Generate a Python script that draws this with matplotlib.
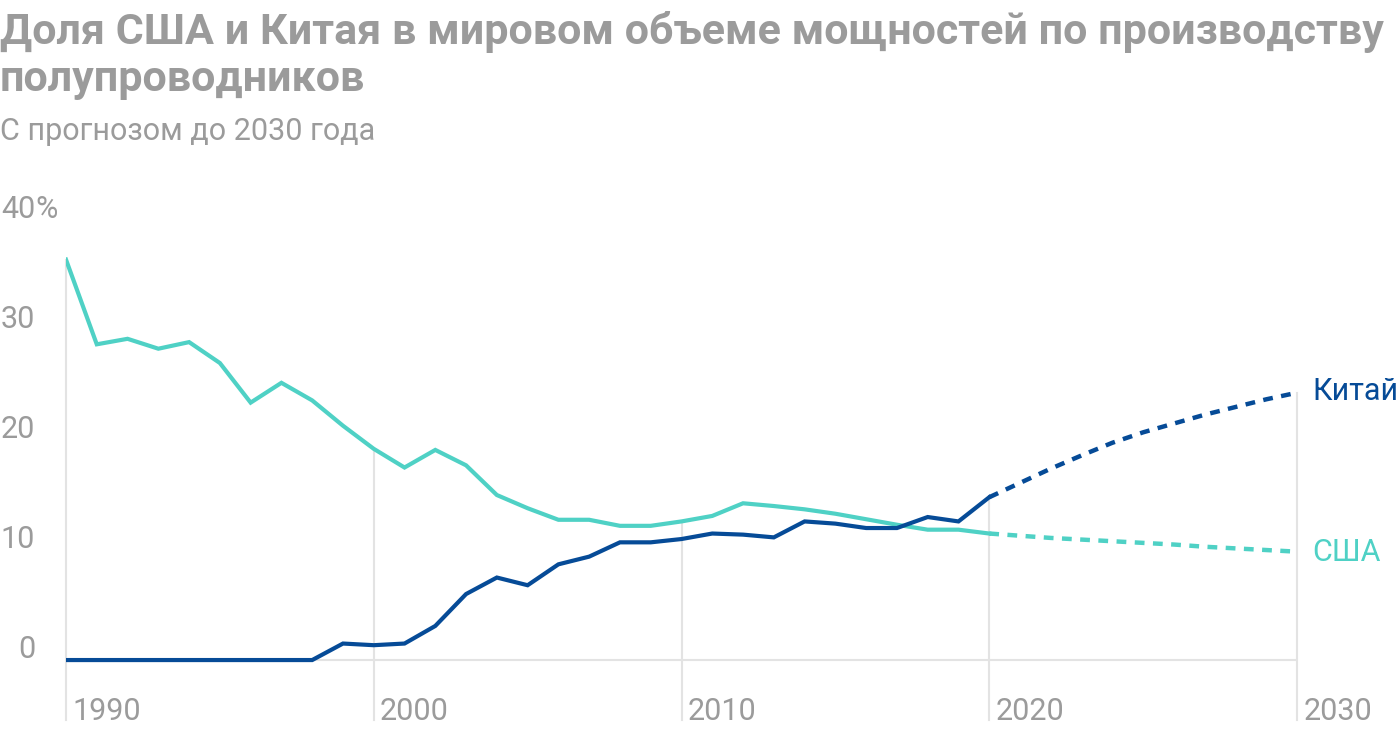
###
# Share of US and China in world semiconductor capacity, with forecast to 2030.
###

import matplotlib
matplotlib.use('Agg')
import matplotlib.pyplot as plt
from matplotlib.transforms import blended_transform_factory

# Data (percent of world capacity).
years_hist = list(range(1990, 2021))
usa_hist = [36.4, 28.7, 29.2, 28.3, 28.9, 27.0, 23.4, 25.2, 23.6, 21.3,
            19.2, 17.5, 19.1, 17.7, 15.0, 13.8, 12.75, 12.75, 12.2, 12.2,
            12.6, 13.1, 14.25, 14.0, 13.7, 13.3, 12.8, 12.3, 11.85, 11.85,
            11.5]
china_hist = [0, 0, 0, 0, 0, 0, 0, 0, 0, 1.5,
              1.35, 1.5, 3.1, 6.0, 7.5, 6.8, 8.7, 9.4, 10.7, 10.7,
              11.0, 11.5, 11.4, 11.15, 12.6, 12.4, 12.0, 12.0, 13.0, 12.6,
              14.8]

years_fc = list(range(2020, 2031))
usa_fc = [11.5, 11.3, 11.1, 10.95, 10.8, 10.65, 10.5, 10.3, 10.15, 10.0, 9.85]
china_fc = [14.8, 16.1, 17.4, 18.6, 19.75, 20.7, 21.5, 22.3, 23.0, 23.7, 24.3]

decades = [1990, 2000, 2010, 2020, 2030]
y_ticks = [0, 10, 20, 30, 40]

title_lines = ['Доля США и Китая в мировом объеме мощностей по производству',
               'полупроводников']
subtitle = 'С прогнозом до 2030 года'

USA_COLOR = '#4fd1c5'
CHINA_COLOR = '#064b97'
TEXT_GRAY = '#9b9b9b'
GRID_GRAY = '#e3e3e3'

W, H = 1400, 732


def main() -> int:
    plt.rcParams['font.family'] = ['Roboto', 'DejaVu Sans']

    fig = plt.figure(figsize=(W / 100, H / 100), dpi=100)
    # axes: 1990 at x=66px, 2030 at x=1297px; y=40 at 220px, bottom at 720px
    ax = fig.add_axes([66 / W, (H - 720) / H, (1297 - 66) / W, (720 - 220) / H])
    ax.set_xlim(1990, 2030)
    ax.set_ylim(-5.45, 40)
    ax.axis('off')

    # zero gridline
    ax.plot([1990, 2030], [0, 0], color=GRID_GRAY, lw=1.5, zorder=1)

    # decade drop lines from the top series value down to the bottom
    all_years = years_hist + years_fc
    all_usa = usa_hist + usa_fc
    all_china = china_hist + china_fc
    for d in decades:
        i = all_years.index(d)
        top = max(all_usa[i], all_china[i])
        ax.plot([d, d], [-5.45, top], color=GRID_GRAY, lw=1.5, zorder=1,
                clip_on=False)
        ax.text(d + 0.2, -5.45, str(d), color=TEXT_GRAY, fontsize=22,
                ha='left', va='baseline')

    # y labels: number right-aligned at 35px, with % after the top one
    ylab = blended_transform_factory(fig.transFigure, ax.transData)
    for v in y_ticks:
        fig.text(35 / W, v + 0.15, str(v), transform=ylab,
                 color=TEXT_GRAY, fontsize=22, ha='right', va='baseline')
    fig.text(35 / W, y_ticks[-1] + 0.15, '%', transform=ylab,
             color=TEXT_GRAY, fontsize=22, ha='left', va='baseline')

    # lines
    ax.plot(years_hist, usa_hist, color=USA_COLOR, lw=3, zorder=3,
            solid_joinstyle='miter')
    ax.plot(years_hist, china_hist, color=CHINA_COLOR, lw=3, zorder=4,
            solid_joinstyle='miter')
    ax.plot(years_fc, usa_fc, color=USA_COLOR, lw=3.2, zorder=3,
            dashes=(2.2, 1.9), dash_capstyle='butt')
    ax.plot(years_fc, china_fc, color=CHINA_COLOR, lw=3.2, zorder=4,
            dashes=(2.2, 1.9), dash_capstyle='butt')

    # series labels
    ax.text(2030.5, china_fc[-1] + 0.1, 'Китай', color=CHINA_COLOR,
            fontsize=22, ha='left', va='center', clip_on=False)
    ax.text(2030.5, usa_fc[-1] - 0.1, 'США', color=USA_COLOR,
            fontsize=22, ha='left', va='center', clip_on=False)

    # titles
    for k, line in enumerate(title_lines):
        fig.text(0.0, 1 - (44 + 47 * k) / H, line, color=TEXT_GRAY,
                 fontsize=31, fontweight='bold', ha='left', va='baseline')
    fig.text(0.0, 1 - 140 / H, subtitle, color=TEXT_GRAY, fontsize=22,
             ha='left', va='baseline')

    fig.savefig('out.png', dpi=100)
    return 0


if '__main__' == __name__:
    main()
